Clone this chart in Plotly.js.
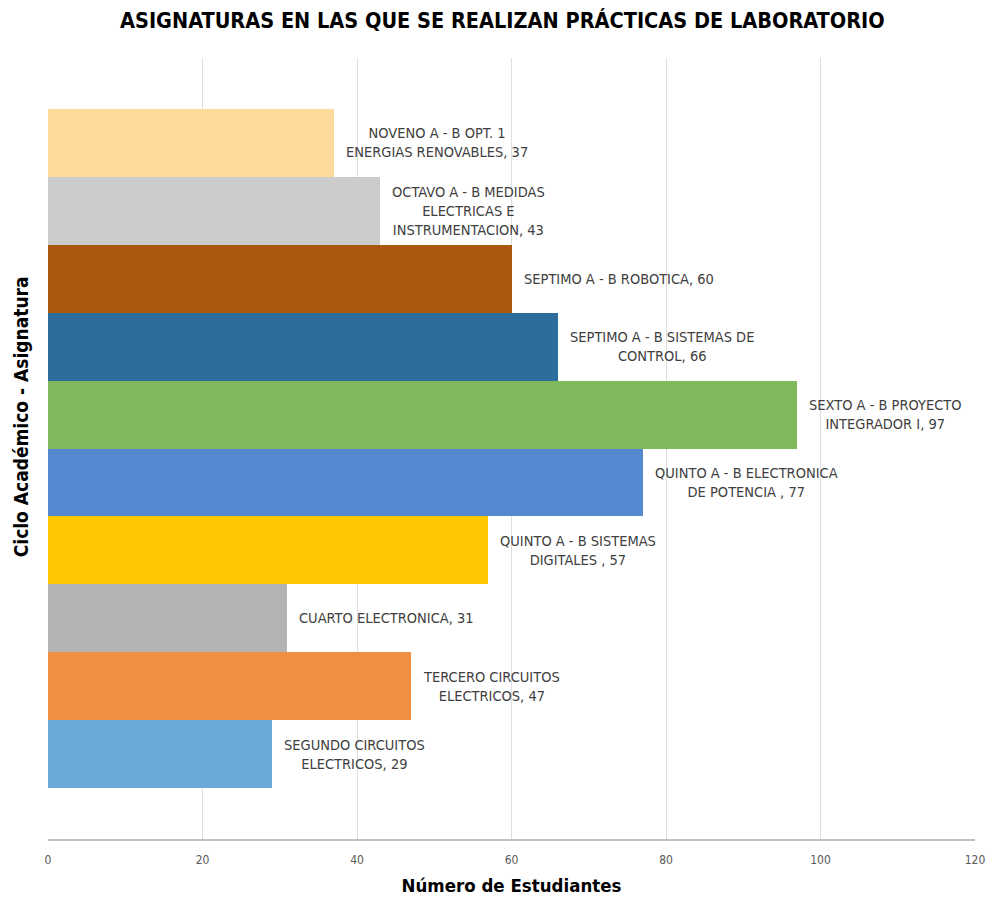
<!DOCTYPE html>
<html>
<head>
<meta charset="utf-8">
<script src="https://cdn.plot.ly/plotly-3.0.1.min.js"></script>
<style>html,body{margin:0;padding:0;background:#fff;}#chart{width:987px;height:897px;}</style>
</head>
<body>
<div id="chart"></div>
<script>
// Categories listed bottom to top (as drawn)
var categories = [
  "SEGUNDO CIRCUITOS<br>ELECTRICOS",
  "TERCERO CIRCUITOS<br>ELECTRICOS",
  "CUARTO ELECTRONICA",
  "QUINTO A - B SISTEMAS<br>DIGITALES ",
  "QUINTO A - B ELECTRONICA<br>DE POTENCIA ",
  "SEXTO A - B PROYECTO<br>INTEGRADOR I",
  "SEPTIMO A - B SISTEMAS DE<br>CONTROL",
  "SEPTIMO A - B ROBOTICA",
  "OCTAVO A - B MEDIDAS<br>ELECTRICAS E<br>INSTRUMENTACION",
  "NOVENO A - B OPT. 1<br>ENERGIAS RENOVABLES"
];
var values = [29, 47, 31, 57, 77, 97, 66, 60, 43, 37];
var colors = ["#6aaadb", "#f08e41", "#b3b3b3", "#ffc800", "#5489d0", "#7eb95c", "#2c6d9d", "#ab5810", "#cccccc", "#fed99a"];
var xTicks = [0, 20, 40, 60, 80, 100, 120];

var FONT = "Liberation Sans Narrow, DejaVu Sans Condensed, Arial Narrow, sans-serif";

var trace = {
  type: "bar",
  orientation: "h",
  y: categories,
  x: values,
  width: 1,
  marker: {color: colors, line: {width: 0}},
  hoverinfo: "none"
};

var annotations = categories.map(function (c, i) {
  return {
    x: values[i], y: c, xref: "x", yref: "y",
    text: c + ", " + values[i],
    showarrow: false, xanchor: "left", yanchor: "middle",
    xshift: 10, align: "center",
    font: {family: FONT, size: 14.5, color: "#404040"}
  };
});

annotations.push({
  text: "<b>Ciclo Académico - Asignatura</b>",
  xref: "paper", yref: "paper", x: 0, y: 0.54,
  xanchor: "center", yanchor: "middle", xshift: -27,
  textangle: -90, showarrow: false,
  font: {family: FONT, size: 19, color: "#000000"}
});

var layout = {
  width: 987, height: 897,
  margin: {l: 48, r: 12, t: 58, b: 58},
  paper_bgcolor: "#ffffff", plot_bgcolor: "#ffffff",
  showlegend: false,
  bargap: 0,
  title: {
    text: "<b>ASIGNATURAS EN LAS QUE SE REALIZAN PRÁCTICAS DE LABORATORIO</b>",
    x: 0.509, xanchor: "center", y: 0.977, yanchor: "middle",
    font: {family: FONT, size: 21.5, color: "#000000"}
  },
  xaxis: {
    range: [0, 120], tickvals: xTicks, ticktext: xTicks.map(String),
    showgrid: true, gridcolor: "#dedede", gridwidth: 1,
    zeroline: false, showline: true, linecolor: "#c0c0c0", linewidth: 2,
    ticks: "", ticklabelstandoff: 9,
    tickfont: {family: FONT, size: 12, color: "#595959"},
    title: {text: "<b>Número de Estudiantes</b>", standoff: 13,
            font: {family: FONT, size: 18.5, color: "#000000"}},
    fixedrange: true
  },
  yaxis: {
    type: "category",
    range: [-1.25, 10.25],
    showticklabels: false, ticks: "", showgrid: false, zeroline: false, showline: false,
    fixedrange: true
  },
  annotations: annotations
};

Plotly.newPlot("chart", [trace], layout, {displayModeBar: false, staticPlot: true});
</script>
</body>
</html>
